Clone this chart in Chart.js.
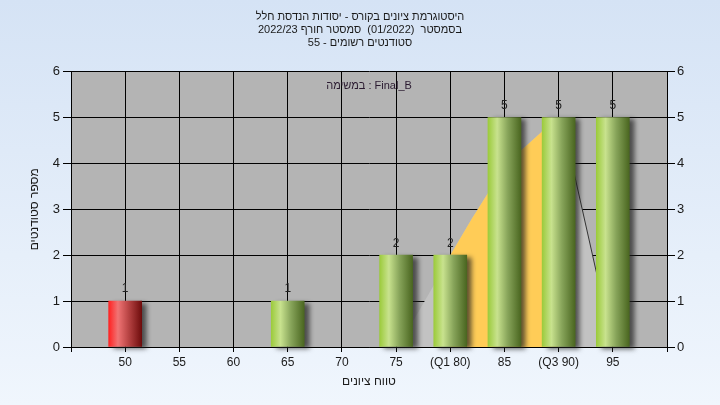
<!DOCTYPE html>
<html>
<head>
<meta charset="utf-8">
<script src="https://cdn.jsdelivr.net/npm/chart.js@4.4.0/dist/chart.umd.min.js"></script>
<style>
  html, body { margin: 0; padding: 0; }
  body { width: 720px; height: 405px; background: linear-gradient(#d5e3f5, #f0f6fd); }
</style>
</head>
<body>
<canvas id="gradeHistogram" width="720" height="405"></canvas>
<script>
const grades = [50, 55, 60, 65, 70, 75, 80, 85, 90, 95];
const studentCounts = [1, 0, 0, 1, 0, 2, 2, 5, 5, 5];
const tickLabels = ["50", "55", "60", "65", "70", "75", "(Q1 80)", "85", "(Q3 90)", "95"];

// distribution shape behind the bars
const curveGrades = [75.1, 76, 77, 78.4, 80, 82, 83.5, 85, 86.6, 88.5, 90.3, 91.5, 93.5, 95];
const curveHeights = [0, 0.35, 0.74, 1.31, 2.0, 2.8, 3.36, 3.85, 4.3, 4.7, 4.95, 3.71, 1.61, 0];

// Q1..Q3 band
const quartileGrades = [80, 82, 83.5, 85, 86.6, 88.5, 90];
const quartileHeights = [2.0, 2.8, 3.36, 3.85, 4.3, 4.7, 4.91];

const titleLines = [
  "היסטוגרמת ציונים בקורס - יסודות הנדסת חלל",
  "\u202Bבסמסטר  (01/2022)  סמסטר חורף 2022/23\u202C",
  "\u202Bסטודנטים רשומים - 55\u202C"
];
const taskLabel = "במשימה : Final_B";
const xTitle = "טווח ציונים";
const yTitle = "מספר סטודנטים";

const passMark = 55;

Chart.defaults.font.family = "'Liberation Sans', 'DejaVu Sans', sans-serif";
Chart.defaults.color = "#1a1a1a";

const greenStops = [[0, "#9ccb3c"], [0.28, "#c8e28e"], [0.6, "#87a45a"], [1, "#4a6620"]];
const redStops = [[0, "#ff2222"], [0.28, "#f07474"], [0.6, "#b84444"], [1, "#6e0c0c"]];

function barFill(ctx) {
  const chart = ctx.chart;
  const xScale = chart.scales.x;
  if (!xScale || !ctx.raw) return greenStops[0][1];
  const cx = xScale.getPixelForValue(ctx.raw.x);
  if (!isFinite(cx)) return greenStops[0][1];
  const g = chart.ctx.createLinearGradient(cx - 16.5, 0, cx + 16.5, 0);
  const stops = ctx.raw.x < passMark ? redStops : greenStops;
  stops.forEach(s => g.addColorStop(s[0], s[1]));
  return g;
}

const barShadow = {
  id: "barShadow",
  beforeDatasetDraw(chart, args) {
    if (chart.data.datasets[args.index].type !== "bar") return;
    const ctx = chart.ctx;
    ctx.save();
    ctx.shadowColor = "rgba(30,30,30,0.7)";
    ctx.shadowBlur = 5;
    ctx.shadowOffsetX = 5;
    ctx.shadowOffsetY = 2;
  },
  afterDatasetDraw(chart, args) {
    if (chart.data.datasets[args.index].type !== "bar") return;
    chart.ctx.restore();
  }
};

const barValues = {
  id: "barValues",
  afterDatasetsDraw(chart) {
    const ctx = chart.ctx;
    chart.data.datasets.forEach((ds, i) => {
      if (ds.type !== "bar") return;
      chart.getDatasetMeta(i).data.forEach((bar, j) => {
        const v = ds.data[j].y;
        if (!v) return;
        ctx.save();
        ctx.font = "12px 'Liberation Sans', sans-serif";
        ctx.fillStyle = "#222";
        ctx.textAlign = "center";
        ctx.textBaseline = "bottom";
        ctx.fillText(String(v), bar.x, bar.y - 6);
        ctx.restore();
      });
    });
    // task name inside the plot
    const area = chart.chartArea;
    ctx.save();
    ctx.font = "11px 'Liberation Sans', sans-serif";
    ctx.fillStyle = "#2a1a30";
    ctx.textAlign = "center";
    ctx.textBaseline = "middle";
    ctx.fillText(taskLabel, (area.left + area.right) / 2, area.top + 14);
    ctx.restore();
  }
};

const plotBackground = {
  id: "plotBackground",
  beforeDraw(chart) {
    const a = chart.chartArea;
    chart.ctx.save();
    chart.ctx.fillStyle = "#b4b4b4";
    chart.ctx.fillRect(a.left, a.top, a.right - a.left, a.bottom - a.top);
    chart.ctx.restore();
  }
};

new Chart(document.getElementById("gradeHistogram"), {
  type: "bar",
  data: {
    datasets: [
      {
        type: "bar",
        data: grades
          .map((g, i) => ({ x: g, y: studentCounts[i] }))
          .filter(p => p.y > 0),
        backgroundColor: barFill,
        borderWidth: 0,
        barThickness: 33,
        clip: false,
        order: 1
      },
      {
        type: "line",
        data: quartileGrades.map((g, i) => ({ x: g, y: quartileHeights[i] })),
        fill: "origin",
        backgroundColor: "#ffcc57",
        borderWidth: 0,
        pointRadius: 0,
        order: 2
      },
      {
        type: "line",
        data: curveGrades.map((g, i) => ({ x: g, y: curveHeights[i] })),
        fill: "origin",
        backgroundColor: "#c2c2c2",
        borderWidth: 1,
        borderColor: "rgba(0,0,0,0)",
        segment: {
          borderColor: c => c.p0.parsed.x >= 90 ? "#333" : "rgba(0,0,0,0)"
        },
        pointRadius: 0,
        order: 3
      }
    ]
  },
  options: {
    responsive: false,
    devicePixelRatio: 1,
    animation: false,
    layout: { padding: 0 },
    plugins: {
      legend: { display: false },
      tooltip: { enabled: false },
      title: {
        display: true,
        text: titleLines,
        color: "#1a1a1a",
        font: { size: 11, weight: "normal", lineHeight: 1.2 },
        padding: { top: 10, bottom: 22 }
      }
    },
    scales: {
      x: {
        type: "linear",
        min: 45,
        max: 100,
        offset: false,
        ticks: {
          stepSize: 5,
          autoSkip: false,
          maxRotation: 0,
          padding: 3,
          font: { size: 12 },
          color: "#1a1a1a",
          callback: v => {
            const i = grades.indexOf(v);
            return i < 0 ? "" : tickLabels[i];
          }
        },
        grid: { offset: false, color: "#000", lineWidth: 1, tickLength: 5, tickColor: "#000" },
        border: { color: "#000" },
        title: {
          display: true,
          text: xTitle,
          color: "#1a1a1a",
          font: { size: 12 },
          padding: { top: 0, bottom: 16 }
        },
        afterFit: s => { s.height = 58; }
      },
      y: {
        position: "left",
        min: 0,
        max: 6,
        ticks: { stepSize: 1, padding: 3, font: { size: 13 }, color: "#1a1a1a" },
        grid: { color: "#000", lineWidth: 1, tickLength: 8, tickColor: "#000" },
        border: { color: "#000" },
        title: {
          display: true,
          text: yTitle,
          color: "#1a1a1a",
          font: { size: 12 },
          padding: { top: 27, bottom: 0 }
        },
        afterFit: s => { s.width = 71; }
      },
      yRight: {
        position: "right",
        min: 0,
        max: 6,
        ticks: { stepSize: 1, padding: 2, font: { size: 13 }, color: "#1a1a1a" },
        grid: { drawOnChartArea: false, tickLength: 8, tickColor: "#000" },
        border: { color: "#000" },
        afterFit: s => { s.width = 53; }
      }
    }
  },
  plugins: [plotBackground, barShadow, barValues]
});
</script>
</body>
</html>
